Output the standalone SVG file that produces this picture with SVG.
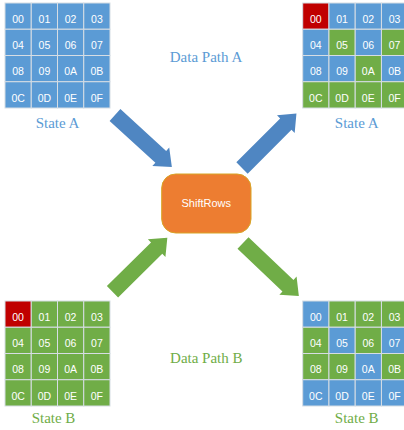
<svg xmlns="http://www.w3.org/2000/svg" xmlns:xlink="http://www.w3.org/1999/xlink" width="404" height="430" viewBox="0 0 404 430">
<style>
.b{fill:#5b9bd5}
.g{fill:#70ad47}
.r{fill:#c00000}
rect.c{stroke:#d6dde4;stroke-width:1}
text.t{font-family:"Liberation Sans","Open Sans",sans-serif;font-size:10.5px;fill:#ffffff;text-anchor:middle}
text.lbl{font-family:"Liberation Serif","DejaVu Serif",serif;font-size:15px;text-anchor:middle}
.la{fill:#5b9bd5}
.lg{fill:#70ad47}
.ab{fill:#4f86c2}
.ag{fill:#70ad47}
</style>
<defs>
<path id="arr" d="M0,-8 L62,-8 L62,-12.5 L77,0 L62,12.5 L62,8 L0,8 Z"/>
<g id="labels">
<text class="t" x="13.1" y="19.8">00</text><text class="t" x="39.4" y="19.8">01</text><text class="t" x="65.6" y="19.8">02</text><text class="t" x="91.9" y="19.8">03</text>
<text class="t" x="13.1" y="46" >04</text><text class="t" x="39.4" y="46">05</text><text class="t" x="65.6" y="46">06</text><text class="t" x="91.9" y="46">07</text>
<text class="t" x="13.1" y="72.3">08</text><text class="t" x="39.4" y="72.3">09</text><text class="t" x="65.6" y="72.3">0A</text><text class="t" x="91.9" y="72.3">0B</text>
<text class="t" x="13.1" y="98.5">0C</text><text class="t" x="39.4" y="98.5">0D</text><text class="t" x="65.6" y="98.5">0E</text><text class="t" x="91.9" y="98.5">0F</text>
</g>
</defs>

<g id="connectors">
<use xlink:href="#arr" href="#arr" class="ab" transform="translate(115,115) rotate(42.4)"/>
<use xlink:href="#arr" href="#arr" class="ab" transform="translate(242,168) rotate(-45)"/>
<use xlink:href="#arr" href="#arr" class="ag" transform="translate(112.5,291.7) rotate(-44.6)"/>
<use xlink:href="#arr" href="#arr" class="ag" transform="translate(243,243) rotate(43.5)"/>
</g>

<g id="stateA-in" transform="translate(5,3)">
<rect class="c b" x="0" y="0" width="26.25" height="26.25"/><rect class="c b" x="26.25" y="0" width="26.25" height="26.25"/><rect class="c b" x="52.5" y="0" width="26.25" height="26.25"/><rect class="c b" x="78.75" y="0" width="26.25" height="26.25"/>
<rect class="c b" x="0" y="26.25" width="26.25" height="26.25"/><rect class="c b" x="26.25" y="26.25" width="26.25" height="26.25"/><rect class="c b" x="52.5" y="26.25" width="26.25" height="26.25"/><rect class="c b" x="78.75" y="26.25" width="26.25" height="26.25"/>
<rect class="c b" x="0" y="52.5" width="26.25" height="26.25"/><rect class="c b" x="26.25" y="52.5" width="26.25" height="26.25"/><rect class="c b" x="52.5" y="52.5" width="26.25" height="26.25"/><rect class="c b" x="78.75" y="52.5" width="26.25" height="26.25"/>
<rect class="c b" x="0" y="78.75" width="26.25" height="26.25"/><rect class="c b" x="26.25" y="78.75" width="26.25" height="26.25"/><rect class="c b" x="52.5" y="78.75" width="26.25" height="26.25"/><rect class="c b" x="78.75" y="78.75" width="26.25" height="26.25"/>
<use xlink:href="#labels" href="#labels"/>
<text class="lbl la" x="52.5" y="125">State A</text>
</g>

<g id="stateA-out" transform="translate(302.7,3)">
<rect class="c r" x="0" y="0" width="26.25" height="26.25"/><rect class="c b" x="26.25" y="0" width="26.25" height="26.25"/><rect class="c b" x="52.5" y="0" width="26.25" height="26.25"/><rect class="c b" x="78.75" y="0" width="26.25" height="26.25"/>
<rect class="c b" x="0" y="26.25" width="26.25" height="26.25"/><rect class="c g" x="26.25" y="26.25" width="26.25" height="26.25"/><rect class="c b" x="52.5" y="26.25" width="26.25" height="26.25"/><rect class="c g" x="78.75" y="26.25" width="26.25" height="26.25"/>
<rect class="c b" x="0" y="52.5" width="26.25" height="26.25"/><rect class="c b" x="26.25" y="52.5" width="26.25" height="26.25"/><rect class="c g" x="52.5" y="52.5" width="26.25" height="26.25"/><rect class="c b" x="78.75" y="52.5" width="26.25" height="26.25"/>
<rect class="c g" x="0" y="78.75" width="26.25" height="26.25"/><rect class="c g" x="26.25" y="78.75" width="26.25" height="26.25"/><rect class="c g" x="52.5" y="78.75" width="26.25" height="26.25"/><rect class="c g" x="78.75" y="78.75" width="26.25" height="26.25"/>
<use xlink:href="#labels" href="#labels"/>
<text class="lbl la" x="54" y="125">State A</text>
</g>

<g id="stateB-in" transform="translate(5,301)">
<rect class="c r" x="0" y="0" width="26.25" height="26.25"/><rect class="c g" x="26.25" y="0" width="26.25" height="26.25"/><rect class="c g" x="52.5" y="0" width="26.25" height="26.25"/><rect class="c g" x="78.75" y="0" width="26.25" height="26.25"/>
<rect class="c g" x="0" y="26.25" width="26.25" height="26.25"/><rect class="c g" x="26.25" y="26.25" width="26.25" height="26.25"/><rect class="c g" x="52.5" y="26.25" width="26.25" height="26.25"/><rect class="c g" x="78.75" y="26.25" width="26.25" height="26.25"/>
<rect class="c g" x="0" y="52.5" width="26.25" height="26.25"/><rect class="c g" x="26.25" y="52.5" width="26.25" height="26.25"/><rect class="c g" x="52.5" y="52.5" width="26.25" height="26.25"/><rect class="c g" x="78.75" y="52.5" width="26.25" height="26.25"/>
<rect class="c g" x="0" y="78.75" width="26.25" height="26.25"/><rect class="c g" x="26.25" y="78.75" width="26.25" height="26.25"/><rect class="c g" x="52.5" y="78.75" width="26.25" height="26.25"/><rect class="c g" x="78.75" y="78.75" width="26.25" height="26.25"/>
<use xlink:href="#labels" href="#labels"/>
<text class="lbl lg" x="48.5" y="122">State B</text>
</g>

<g id="stateB-out" transform="translate(302.7,301)">
<rect class="c b" x="0" y="0" width="26.25" height="26.25"/><rect class="c g" x="26.25" y="0" width="26.25" height="26.25"/><rect class="c g" x="52.5" y="0" width="26.25" height="26.25"/><rect class="c g" x="78.75" y="0" width="26.25" height="26.25"/>
<rect class="c g" x="0" y="26.25" width="26.25" height="26.25"/><rect class="c b" x="26.25" y="26.25" width="26.25" height="26.25"/><rect class="c g" x="52.5" y="26.25" width="26.25" height="26.25"/><rect class="c b" x="78.75" y="26.25" width="26.25" height="26.25"/>
<rect class="c g" x="0" y="52.5" width="26.25" height="26.25"/><rect class="c g" x="26.25" y="52.5" width="26.25" height="26.25"/><rect class="c b" x="52.5" y="52.5" width="26.25" height="26.25"/><rect class="c g" x="78.75" y="52.5" width="26.25" height="26.25"/>
<rect class="c b" x="0" y="78.75" width="26.25" height="26.25"/><rect class="c b" x="26.25" y="78.75" width="26.25" height="26.25"/><rect class="c b" x="52.5" y="78.75" width="26.25" height="26.25"/><rect class="c b" x="78.75" y="78.75" width="26.25" height="26.25"/>
<use xlink:href="#labels" href="#labels"/>
<text class="lbl lg" x="54" y="122">State B</text>
</g>

<g id="shiftrows">
<rect x="161.7" y="174" width="89.3" height="59" rx="14" ry="14" fill="#ed7d31" stroke="#d8a526" stroke-width="1"/>
<text x="206.3" y="207.3" font-family="Liberation Sans, Open Sans, sans-serif" font-size="11" fill="#ffffff" text-anchor="middle">ShiftRows</text>
</g>

<g id="path-labels">
<text class="lbl la" x="206" y="61.5">Data Path A</text>
<text class="lbl lg" x="206.3" y="363">Data Path B</text>
</g>
</svg>
